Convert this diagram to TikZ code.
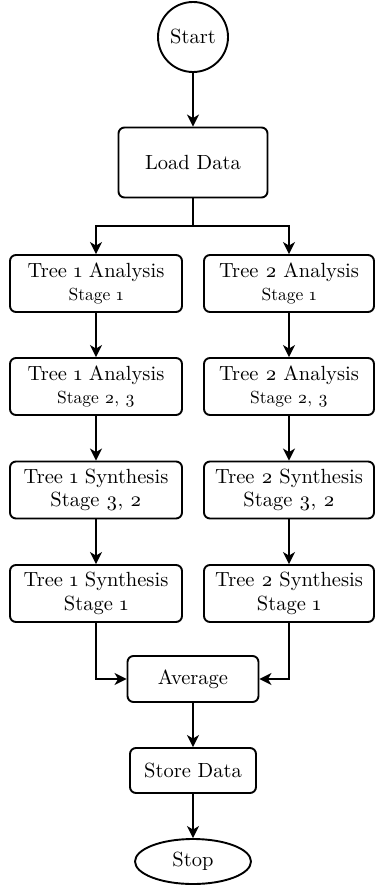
\documentclass[tikz,border=0pt]{standalone}
\usepackage{fontspec}
\setmainfont{lmroman10-regular.otf}[Numbers=OldStyle]
\usepackage{tikz}
\usetikzlibrary{calc}
\usetikzlibrary{arrows.meta}
\usetikzlibrary{shapes.geometric}
\newcommand{\stagetxt}[1]{{\fontsize{17.5}{20}\selectfont #1}}

\begin{document}
\begin{tikzpicture}[x=1pt,y=-1pt,
  box/.style={draw, line width=1.9pt, rounded corners=6pt, align=center, inner sep=0pt,
    font=\fontsize{20.5}{23.5}\selectfont},
  ln/.style={line width=1.9pt},
  arw/.style={line width=1.9pt, -{Stealth[length=12pt,width=12pt,inset=3.5pt]}}]
\useasboundingbox (0,0) rectangle (375,888);

\node[box, circle, rounded corners=0pt, minimum size=70pt] (start) at (193,37) {Start};
\node[box, minimum width=149pt, minimum height=70pt] (load) at (193,162.5) {Load Data};
\coordinate (split) at (193,226);

\node[box, minimum width=172pt, minimum height=57pt] (t1a1) at (96,283.5) {Tree 1 Analysis\\\stagetxt{Stage 1}};
\node[box, minimum width=170pt, minimum height=57pt] (t2a1) at (289,283.5) {Tree 2 Analysis\\\stagetxt{Stage 1}};
\node[box, minimum width=172pt, minimum height=57pt] (t1a2) at (96,386.5) {Tree 1 Analysis\\\stagetxt{Stage 2, 3}};
\node[box, minimum width=170pt, minimum height=57pt] (t2a2) at (289,386.5) {Tree 2 Analysis\\\stagetxt{Stage 2, 3}};
\node[box, minimum width=172pt, minimum height=57pt] (t1s2) at (96,490) {Tree 1 Synthesis\\Stage 3, 2};
\node[box, minimum width=170pt, minimum height=57pt] (t2s2) at (289,490) {Tree 2 Synthesis\\Stage 3, 2};
\node[box, minimum width=172pt, minimum height=57pt] (t1s1) at (96,593.5) {Tree 1 Synthesis\\Stage 1};
\node[box, minimum width=170pt, minimum height=57pt] (t2s1) at (289,593.5) {Tree 2 Synthesis\\Stage 1};

\node[box, minimum width=131pt, minimum height=46pt] (avg) at (193,679) {Average};
\node[box, minimum width=126pt, minimum height=45pt] (store) at (193,770.5) {Store Data};
\node[box, ellipse, rounded corners=0pt, minimum width=116pt, minimum height=45pt] (stop) at (193,861.5) {Stop};

\draw[arw] (start) -- (load);
\draw[ln] (load) -- (split);
\draw[arw] (split) -| (t1a1);
\draw[arw] (split) -| (t2a1);

\draw[arw] (t1a1) -- (t1a2);
\draw[arw] (t1a2) -- (t1s2);
\draw[arw] (t1s2) -- (t1s1);
\draw[arw] (t2a1) -- (t2a2);
\draw[arw] (t2a2) -- (t2s2);
\draw[arw] (t2s2) -- (t2s1);

\draw[arw] (t1s1) |- (avg);
\draw[arw] (t2s1) |- (avg);
\draw[arw] (avg) -- (store);
\draw[arw] (store) -- (stop);
\end{tikzpicture}
\end{document}
